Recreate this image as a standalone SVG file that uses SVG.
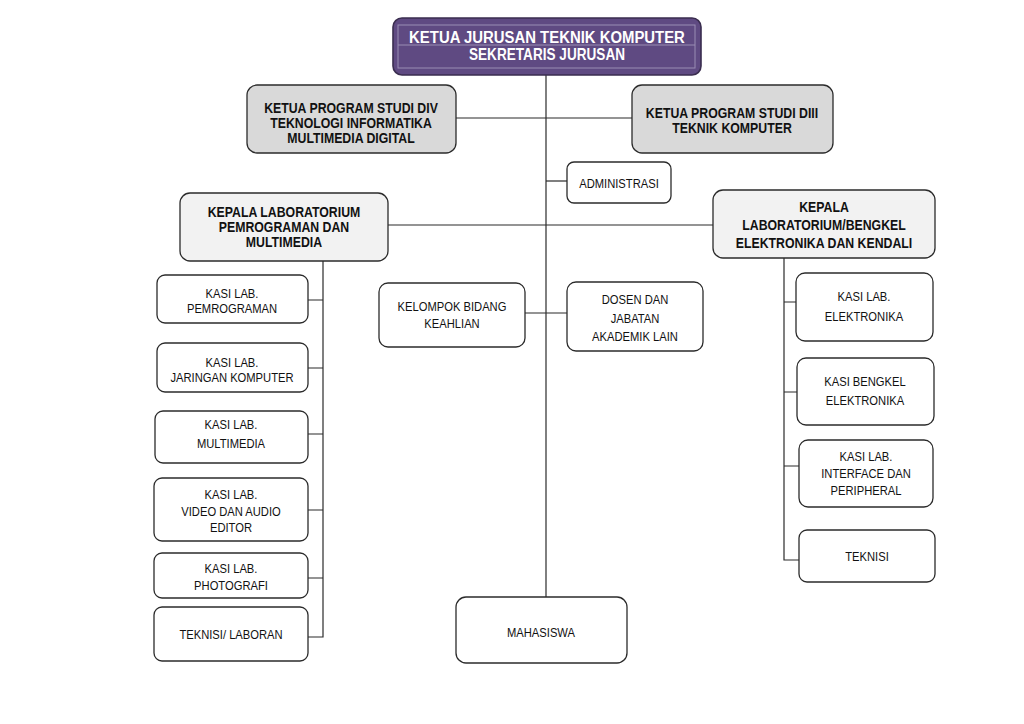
<svg xmlns="http://www.w3.org/2000/svg" width="1024" height="724" viewBox="0 0 1024 724">
<style>
.bx{fill:#ffffff;stroke:#2b2b2b;stroke-width:1.3}
.g1{fill:#d9d9d9;stroke:#2b2b2b;stroke-width:1.3}
.g2{fill:#f2f2f2;stroke:#2b2b2b;stroke-width:1.3}
.b{font-family:"Liberation Sans",Arial,sans-serif;font-weight:bold;font-size:12.3px;fill:#111;text-anchor:middle}
.t{font-family:"Liberation Sans",Arial,sans-serif;font-size:11.2px;fill:#111;text-anchor:middle}
.w{font-family:"Liberation Sans",Arial,sans-serif;font-weight:bold;fill:#ffffff;text-anchor:middle}
.ln{stroke:#2b2b2b;stroke-width:1.2;fill:none}
</style>
<rect width="1024" height="724" fill="#ffffff"/>
<g id="connectors">
<path class="ln" d="M546,75 V597"/>
<path class="ln" d="M456,118 H632"/>
<path class="ln" d="M546,181 H567"/>
<path class="ln" d="M388,225 H713"/>
<path class="ln" d="M525,313 H567"/>
<path class="ln" d="M323,261 V637 H308"/>
<path class="ln" d="M308,300 H323 M308,368 H323 M308,434 H323 M308,510 H323 M308,578 H323"/>
<path class="ln" d="M784,258 V560 H799"/>
<path class="ln" d="M784,302 H796 M784,392 H797 M784,466 H799"/>
</g>
<g id="kajur">
<rect x="393" y="18" width="308" height="57" rx="9" fill="#5f4a82" stroke="#3a2d4f" stroke-width="1.6"/>
<rect x="398" y="25" width="297" height="43" fill="none" stroke="#9a8db3" stroke-width="1"/>
<line x1="398" y1="45" x2="695" y2="45" stroke="#9a8db3" stroke-width="1"/>
<text class="w" font-size="14.9" transform="translate(547,43) scale(1,1.15)">KETUA JURUSAN TEKNIK KOMPUTER</text>
<text class="w" font-size="13.6" transform="translate(547,60) scale(1,1.15)">SEKRETARIS JURUSAN</text>
</g>
<g id="kps-div">
<rect class="g1" x="247" y="85" width="209" height="68" rx="10"/>
<text class="b" transform="translate(351,112.5) scale(1,1.15)">KETUA PROGRAM STUDI DIV</text>
<text class="b" transform="translate(351,127.5) scale(1,1.15)">TEKNOLOGI INFORMATIKA</text>
<text class="b" transform="translate(351,142.5) scale(1,1.15)">MULTIMEDIA DIGITAL</text>
</g>
<g id="kps-diii">
<rect class="g1" x="632" y="85" width="201" height="68" rx="10"/>
<text class="b" transform="translate(732,117.5) scale(1,1.15)">KETUA PROGRAM STUDI DIII</text>
<text class="b" transform="translate(732,132.5) scale(1,1.15)">TEKNIK KOMPUTER</text>
</g>
<g id="administrasi">
<rect class="bx" x="567" y="162" width="104" height="41" rx="7"/>
<text class="t" transform="translate(619,188) scale(1,1.2)">ADMINISTRASI</text>
</g>
<g id="kalab-pm">
<rect class="g2" x="180" y="193" width="208" height="68" rx="10"/>
<text class="b" transform="translate(284,217) scale(1,1.15)">KEPALA LABORATORIUM</text>
<text class="b" transform="translate(284,232) scale(1,1.15)">PEMROGRAMAN DAN</text>
<text class="b" transform="translate(284,247) scale(1,1.15)">MULTIMEDIA</text>
</g>
<g id="kalab-ek">
<rect class="g2" x="713" y="190" width="222" height="68" rx="10"/>
<text class="b" transform="translate(824,211.5) scale(1,1.15)">KEPALA</text>
<text class="b" transform="translate(824,230) scale(1,1.15)">LABORATORIUM/BENGKEL</text>
<text class="b" transform="translate(824,247.5) scale(1,1.15)">ELEKTRONIKA DAN KENDALI</text>
</g>
<g id="kasi-pemrograman">
<rect class="bx" x="157" y="275" width="151" height="48" rx="8"/>
<text class="t" transform="translate(232,298) scale(1,1.2)">KASI LAB.</text>
<text class="t" transform="translate(232,313) scale(1,1.2)">PEMROGRAMAN</text>
</g>
<g id="kasi-jaringan">
<rect class="bx" x="157" y="343" width="151" height="49" rx="8"/>
<text class="t" transform="translate(232,367) scale(1,1.2)">KASI LAB.</text>
<text class="t" transform="translate(232,382) scale(1,1.2)">JARINGAN KOMPUTER</text>
</g>
<g id="kasi-multimedia">
<rect class="bx" x="155" y="411" width="153" height="52" rx="8"/>
<text class="t" transform="translate(231,429) scale(1,1.2)">KASI LAB.</text>
<text class="t" transform="translate(231,448) scale(1,1.2)">MULTIMEDIA</text>
</g>
<g id="kasi-video">
<rect class="bx" x="154" y="478" width="154" height="63" rx="8"/>
<text class="t" transform="translate(231,499) scale(1,1.2)">KASI LAB.</text>
<text class="t" transform="translate(231,516) scale(1,1.2)">VIDEO DAN AUDIO</text>
<text class="t" transform="translate(231,532) scale(1,1.2)">EDITOR</text>
</g>
<g id="kasi-photografi">
<rect class="bx" x="154" y="553" width="154" height="45" rx="8"/>
<text class="t" transform="translate(231,573) scale(1,1.2)">KASI LAB.</text>
<text class="t" transform="translate(231,590) scale(1,1.2)">PHOTOGRAFI</text>
</g>
<g id="teknisi-laboran">
<rect class="bx" x="154" y="607" width="154" height="54" rx="8"/>
<text class="t" transform="translate(231,639) scale(1,1.2)">TEKNISI/ LABORAN</text>
</g>
<g id="kbk">
<rect class="bx" x="379" y="283" width="146" height="64" rx="9"/>
<text class="t" transform="translate(452,311) scale(1,1.2)">KELOMPOK BIDANG</text>
<text class="t" transform="translate(452,328) scale(1,1.2)">KEAHLIAN</text>
</g>
<g id="dosen">
<rect class="bx" x="567" y="282" width="136" height="69" rx="9"/>
<text class="t" transform="translate(635,304) scale(1,1.2)">DOSEN DAN</text>
<text class="t" transform="translate(635,323) scale(1,1.2)">JABATAN</text>
<text class="t" transform="translate(635,341) scale(1,1.2)">AKADEMIK LAIN</text>
</g>
<g id="kasi-elektronika">
<rect class="bx" x="796" y="273" width="137" height="68" rx="9"/>
<text class="t" transform="translate(864,301) scale(1,1.2)">KASI LAB.</text>
<text class="t" transform="translate(864,321) scale(1,1.2)">ELEKTRONIKA</text>
</g>
<g id="kasi-bengkel">
<rect class="bx" x="797" y="358" width="137" height="67" rx="9"/>
<text class="t" transform="translate(865,386) scale(1,1.2)">KASI BENGKEL</text>
<text class="t" transform="translate(865,405) scale(1,1.2)">ELEKTRONIKA</text>
</g>
<g id="kasi-interface">
<rect class="bx" x="799" y="440" width="134" height="67" rx="9"/>
<text class="t" transform="translate(866,461) scale(1,1.2)">KASI LAB.</text>
<text class="t" transform="translate(866,478) scale(1,1.2)">INTERFACE DAN</text>
<text class="t" transform="translate(866,495) scale(1,1.2)">PERIPHERAL</text>
</g>
<g id="teknisi">
<rect class="bx" x="799" y="530" width="136" height="52" rx="8"/>
<text class="t" transform="translate(867,561) scale(1,1.2)">TEKNISI</text>
</g>
<g id="mahasiswa">
<rect class="bx" x="456" y="597" width="171" height="66" rx="10"/>
<text class="t" transform="translate(541,637) scale(1,1.2)">MAHASISWA</text>
</g>
</svg>
